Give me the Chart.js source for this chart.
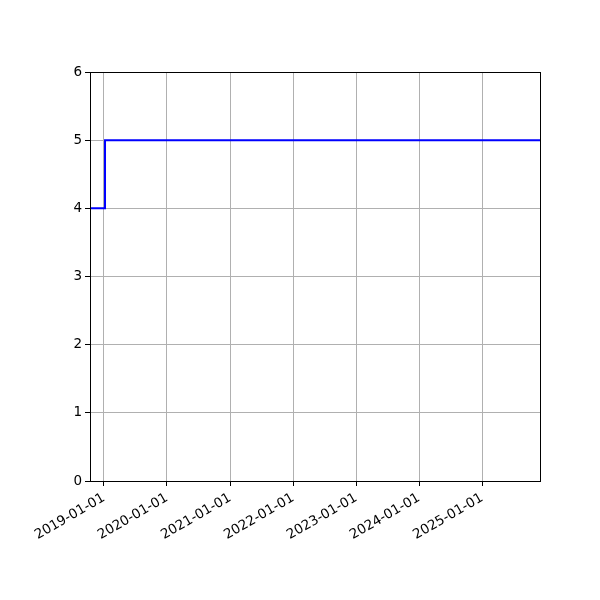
<!DOCTYPE html>
<html lang="en">
<head>
    <meta charset="UTF-8">
    <title>Step chart</title>
    <script src="https://cdn.jsdelivr.net/npm/chart.js"></script>
    <style>
        body {
            margin: 0;
            padding: 0;
            background: #fff;
        }
        #chartContainer {
            width: 600px;
            height: 600px;
        }
    </style>
</head>
<body>
    <div id="chartContainer">
        <canvas id="stepChart" width="600" height="600"></canvas>
    </div>

    <script>
        // step series
        const dates = ['2018-10-12', '2019-01-07', '2025-12-02'];
        const values = [4, 5, 5];
        const tickLabels = ['2019-01-01', '2020-01-01', '2021-01-01', '2022-01-01',
                            '2023-01-01', '2024-01-01', '2025-01-01'];
        const yTicks = [0, 1, 2, 3, 4, 5, 6];

        const toMs = s => Date.parse(s + 'T00:00:00Z');
        const fmt = v => new Date(v).toISOString().slice(0, 10);

        const points = dates.map((d, i) => ({ x: toMs(d), y: values[i] }));

        // top/right spines like the original
        const frame = {
            id: 'frame',
            afterDraw(chart) {
                const a = chart.chartArea;
                const ctx = chart.ctx;
                ctx.save();
                ctx.strokeStyle = '#000';
                ctx.lineWidth = 1;
                ctx.strokeRect(a.left + 0.5, a.top + 0.5, a.right - a.left, a.bottom - a.top);
                ctx.restore();
            }
        };

        Chart.defaults.font.family = '"DejaVu Sans", sans-serif';
        Chart.defaults.font.size = 13.5;
        Chart.defaults.color = '#000';

        const ctx = document.getElementById('stepChart').getContext('2d');
        new Chart(ctx, {
            type: 'line',
            data: {
                datasets: [{
                    data: points,
                    borderColor: '#0000ff',
                    borderWidth: 2,
                    stepped: true,
                    pointRadius: 0,
                    fill: false
                }]
            },
            options: {
                responsive: false,
                animation: false,
                layout: { padding: { top: 72, right: 60, left: 0, bottom: 0 } },
                plugins: { legend: { display: false }, tooltip: { enabled: false } },
                scales: {
                    x: {
                        type: 'linear',
                        min: toMs(dates[0]),
                        max: toMs(dates[dates.length - 1]),
                        afterBuildTicks: scale => {
                            scale.ticks = tickLabels.map(t => ({ value: toMs(t) }));
                        },
                        afterFit: scale => { scale.height = 119; },
                        grid: {
                            color: '#b0b0b0',
                            tickColor: '#000',
                            tickLength: 5,
                            lineWidth: 1
                        },
                        border: { color: '#000' },
                        ticks: {
                            minRotation: 30,
                            maxRotation: 30,
                            autoSkip: false,
                            padding: 4,
                            callback: v => fmt(v)
                        }
                    },
                    y: {
                        min: 0,
                        max: 6,
                        afterBuildTicks: scale => {
                            scale.ticks = yTicks.map(v => ({ value: v }));
                        },
                        afterFit: scale => { scale.width = 90; },
                        grid: {
                            color: '#b0b0b0',
                            tickColor: '#000',
                            tickLength: 5,
                            lineWidth: 1
                        },
                        border: { color: '#000' },
                        ticks: { padding: 3 }
                    }
                }
            },
            plugins: [frame]
        });
    </script>
</body>
</html>
